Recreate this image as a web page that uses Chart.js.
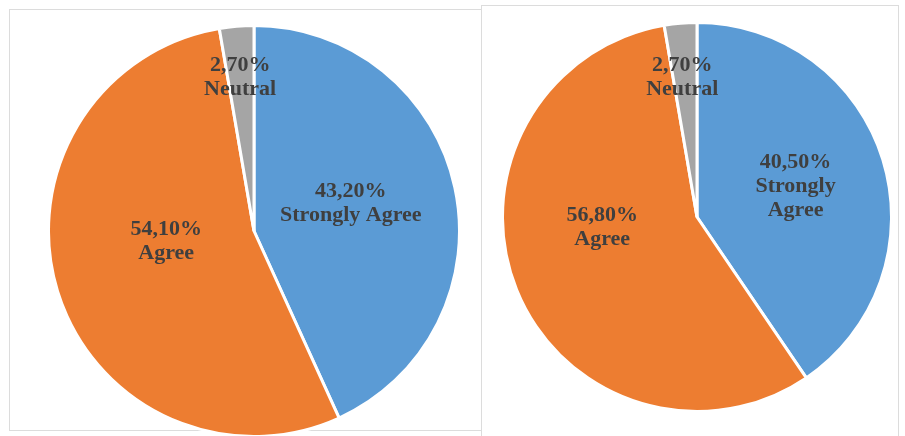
<!DOCTYPE html>
<html>
<head>
<meta charset="utf-8">
<title>Agreement pies</title>
<script src="https://cdn.jsdelivr.net/npm/chart.js@4/dist/chart.umd.min.js"></script>
<style>
  html, body { margin: 0; padding: 0; background: #ffffff; }
  body { width: 905px; height: 436px; position: relative; overflow: hidden; }
  .panel { position: absolute; border: 1px solid #dcdcdc; box-sizing: border-box; }
  canvas { position: absolute; }
</style>
</head>
<body>
<div class="panel" style="left:9px; top:9px; width:473px; height:422px;"></div>
<div class="panel" style="left:481px; top:5px; width:418px; height:440px;"></div>
<canvas id="pieA" width="414" height="414" style="left:47px; top:24px;"></canvas>
<canvas id="pieB" width="392" height="392" style="left:501px; top:21px;"></canvas>
<script>
// Response categories, in drawing order (clockwise from 12 o'clock)
const categories = ["Strongly Agree", "Agree", "Neutral"];
// Share of respondents (%) for each pie
const valuesA = [43.2, 54.1, 2.7];
const valuesB = [40.5, 56.8, 2.7];

const sliceColors = ["#5B9BD5", "#ED7D31", "#A5A5A5"];

// Where each slice label sits: fraction of the radius, and a turn (degrees) off the slice bisector
const labelAnchorsA = [{ f: 0.49, turn: -3.7 }, { f: 0.43, turn: 10.6 }, { f: 0.75, turn: -0.3 }];
const labelAnchorsB = [{ f: 0.53, turn: 0 },    { f: 0.49, turn: 16 },   { f: 0.72, turn: -1.2 }];

const LABEL_FONT = "bold 22px 'Liberation Serif', 'Times New Roman', serif";
const LINE_HEIGHT = 24;

function fmtPct(v) {
  return v.toFixed(2).replace(".", ",") + "%";
}

function wrapWords(ctx, text, maxWidth) {
  if (!maxWidth) return [text];
  const words = text.split(" ");
  const lines = [];
  let cur = "";
  for (const w of words) {
    const trial = cur ? cur + " " + w : w;
    if (cur && ctx.measureText(trial).width > maxWidth) {
      lines.push(cur);
      cur = w;
    } else {
      cur = trial;
    }
  }
  if (cur) lines.push(cur);
  return lines;
}

const sliceLabels = {
  id: "sliceLabels",
  afterDatasetsDraw(chart, args, opts) {
    const ctx = chart.ctx;
    const meta = chart.getDatasetMeta(0);
    const data = chart.data.datasets[0].data;
    ctx.save();
    ctx.font = LABEL_FONT;
    ctx.fillStyle = "#3f3f3f";
    ctx.textAlign = "center";
    ctx.textBaseline = "middle";
    meta.data.forEach((arc, i) => {
      const p = arc.getProps(["x", "y", "startAngle", "endAngle", "outerRadius"], true);
      const anchor = opts.anchors[i];
      const ang = (p.startAngle + p.endAngle) / 2 + anchor.turn * Math.PI / 180;
      const cx = p.x + Math.cos(ang) * p.outerRadius * anchor.f;
      const cy = p.y + Math.sin(ang) * p.outerRadius * anchor.f;
      const lines = [fmtPct(data[i])].concat(wrapWords(ctx, chart.data.labels[i], opts.wrap));
      const top = cy - (lines.length - 1) * LINE_HEIGHT / 2;
      lines.forEach((ln, k) => ctx.fillText(ln, cx, top + k * LINE_HEIGHT));
    });
    ctx.restore();
  }
};

function makePie(id, values, anchors, wrap) {
  return new Chart(document.getElementById(id), {
    type: "pie",
    data: {
      labels: categories,
      datasets: [{
        data: values,
        backgroundColor: sliceColors,
        borderColor: "#ffffff",
        borderWidth: 3
      }]
    },
    options: {
      responsive: false,
      animation: false,
      devicePixelRatio: 1,
      layout: { padding: 0 },
      plugins: {
        legend: { display: false },
        tooltip: { enabled: false },
        sliceLabels: { anchors: anchors, wrap: wrap }
      }
    },
    plugins: [sliceLabels]
  });
}

makePie("pieA", valuesA, labelAnchorsA, 0);
makePie("pieB", valuesB, labelAnchorsB, 110);
</script>
</body>
</html>
